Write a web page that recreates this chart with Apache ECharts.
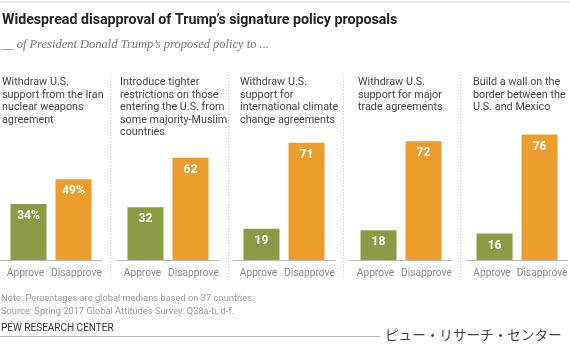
<!DOCTYPE html>
<html>
<head>
<meta charset="utf-8">
<script src="https://cdn.jsdelivr.net/npm/echarts@6/dist/echarts.min.js"></script>
<style>
  html, body { margin: 0; padding: 0; background: #fff; }
  #main { width: 570px; height: 352px; }
</style>
</head>
<body>
<div id="main"></div>
<script>
// 每个小图的标题
var panelTitles = [
    'Withdraw U.S.\nsupport from the Iran\nnuclear weapons\nagreement',
    'Introduce tighter\nrestrictions on those\nentering the U.S. from\nsome majority-Muslim\ncountries',
    'Withdraw U.S.\nsupport for\ninternational climate\nchange agreements',
    'Withdraw U.S.\nsupport for major\ntrade agreements',
    'Build a wall on the\nborder between the\nU.S. and Mexico'
];
var categories = ['Approve', 'Disapprove'];
var approve = [34, 32, 19, 18, 16];
var disapprove = [49, 62, 71, 72, 76];

var green = '#8c9a45';
var orange = '#eb9e2e';
var font = 'Roboto, "Liberation Sans", sans-serif';

var chart = echarts.init(document.getElementById('main'));

var gridLeft = [0, 117, 233, 350, 467];
var titleLeft = [2, 120, 240, 358, 473];

var grids = [], xAxes = [], yAxes = [], series = [], titles = [];

titles.push({
    text: 'Widespread disapproval of Trump\u2019s signature policy proposals',
    left: 2, top: 13, padding: 0,
    textStyle: { fontFamily: font, fontSize: 14.2, fontWeight: 'bold', color: '#222' }
});
titles.push({
    text: '__ of President Donald Trump\u2019s proposed policy to ...',
    left: 1, top: 38, padding: 0,
    textStyle: { fontFamily: '"Liberation Serif", serif', fontStyle: 'italic', fontSize: 12.5, fontWeight: 'normal', color: '#777' }
});

for (var i = 0; i < 5; i++) {
    grids.push({ left: gridLeft[i], width: 102, top: 95, height: 165 });
    // 标签用的类目轴
    xAxes.push({
        type: 'category', gridIndex: i, data: categories,
        axisLine: { lineStyle: { color: '#bbb' } },
        axisTick: { show: false },
        axisLabel: { interval: 0, color: '#888', fontSize: 10.2, fontFamily: font, margin: 8 }
    });
    // 柱子用的隐藏轴
    xAxes.push({ type: 'category', gridIndex: i, data: [''], show: false });
    yAxes.push({ type: 'value', gridIndex: i, min: 0, max: 100, show: false });

    var fmt = i === 0 ? '{c}%' : '{c}';
    var lbl = { show: true, position: 'insideTop', distance: 6, color: '#fff', fontWeight: 'bold', fontSize: 12, fontFamily: font, formatter: fmt };
    series.push({
        type: 'bar', xAxisIndex: i * 2 + 1, yAxisIndex: i,
        data: [approve[i]], barWidth: 36, barGap: '25%',
        itemStyle: { color: green }, label: lbl, silent: true
    });
    series.push({
        type: 'bar', xAxisIndex: i * 2 + 1, yAxisIndex: i,
        data: [disapprove[i]], barWidth: 36, barGap: '25%',
        itemStyle: { color: orange }, label: lbl, silent: true
    });

    titles.push({
        text: panelTitles[i], left: titleLeft[i], top: 76, padding: 0,
        textStyle: { fontFamily: font, fontSize: 10.8, fontWeight: 'normal', color: '#444', lineHeight: 12.6 }
    });
}

titles.push({
    text: 'Note: Percentages are global medians based on 37 countries.\nSource: Spring 2017 Global Attitudes Survey. Q38a-b, d-f.',
    left: 1, top: 292, padding: 0,
    textStyle: { fontFamily: font, fontSize: 9.3, fontWeight: 'normal', color: '#999', lineHeight: 13 }
});
titles.push({
    text: 'PEW RESEARCH CENTER',
    left: 1, top: 323, padding: 0,
    textStyle: { fontFamily: font, fontSize: 10, fontWeight: 'normal', color: '#333' }
});
titles.push({
    text: 'ピュー・リサーチ・センター',
    left: 385, top: 328, padding: 0,
    textStyle: { fontFamily: '"Noto Sans CJK JP", sans-serif', fontSize: 13.6, fontWeight: 'normal', color: '#444' }
});

var graphics = [
    { type: 'line', shape: { x1: 0, y1: 2, x2: 570, y2: 2 }, style: { stroke: '#ccc', lineWidth: 1 } },
    { type: 'line', shape: { x1: 0, y1: 336.5, x2: 380, y2: 336.5 }, style: { stroke: '#bbb', lineWidth: 1 } }
];
[110, 228, 343, 460].forEach(function (x) {
    graphics.push({ type: 'line', shape: { x1: x + 0.5, y1: 75, x2: x + 0.5, y2: 277 }, style: { stroke: '#ccc', lineWidth: 1, lineDash: [1, 2] } });
});

chart.setOption({
    animation: false,
    title: titles,
    grid: grids,
    xAxis: xAxes,
    yAxis: yAxes,
    series: series,
    graphic: graphics
});
</script>
</body>
</html>
